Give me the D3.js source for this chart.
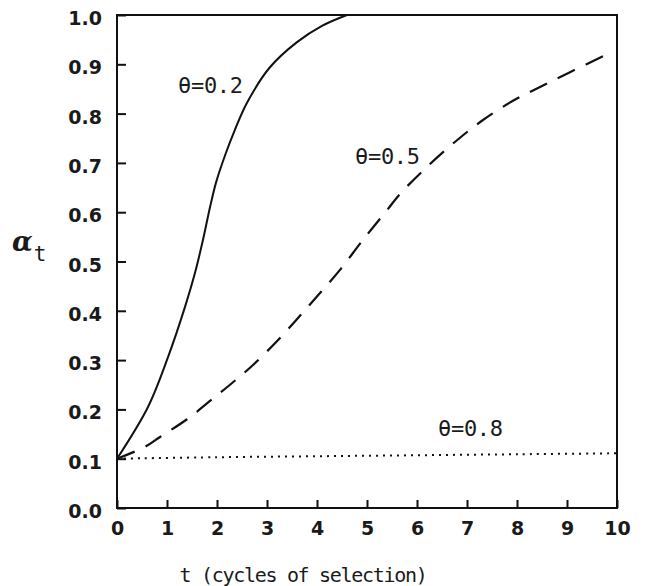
<!DOCTYPE html>
<html>
<head>
<meta charset="utf-8">
<script src="https://cdn.jsdelivr.net/npm/d3@7"></script>
<style>
  body { margin: 0; background: #fff; }
  .tick-label { font-family: "DejaVu Sans", sans-serif; font-weight: bold; font-size: 19px; fill: #1a1a1a; }
  .curve-label { font-family: "DejaVu Sans Mono", monospace; font-size: 22px; letter-spacing: -0.3px; fill: #1a1a1a; }
  .axis-title { font-family: "DejaVu Sans Mono", monospace; font-size: 20px; letter-spacing: -1.3px; fill: #1a1a1a; }
</style>
</head>
<body>
<div class="chart"></div>
<script>
var svgWidth = 648;
var svgHeight = 586;

var margin = { top: 15, right: 31, bottom: 78, left: 117 };
var width = svgWidth - margin.left - margin.right;
var height = svgHeight - margin.top - margin.bottom;

// tick values
var xTicks = [0, 1, 2, 3, 4, 5, 6, 7, 8, 9, 10];
var yTicks = [0.0, 0.1, 0.2, 0.3, 0.4, 0.5, 0.6, 0.7, 0.8, 0.9, 1.0];

// theta = 0.2 (solid)
var tSolid = [0, 0.62, 1.02, 1.36, 1.56, 1.72, 1.86, 1.98, 2.16, 2.35, 2.6, 3.05, 3.6, 4.1, 4.6];
var aSolid = [0.1, 0.205, 0.306, 0.408, 0.477, 0.544, 0.61, 0.66, 0.715, 0.765, 0.822, 0.893, 0.945, 0.978, 1.0];

// theta = 0.5 (dashed)
var tDash = [0, 0.56, 0.86, 1.4, 1.92, 2.26, 2.72, 3.26, 3.66, 4.06, 4.46, 4.92, 5.4, 5.66, 6.2, 6.8, 7.32, 7.92, 8.46, 9.06, 9.86];
var aDash = [0.1, 0.124, 0.144, 0.18, 0.222, 0.25, 0.29, 0.345, 0.39, 0.436, 0.483, 0.544, 0.604, 0.637, 0.692, 0.746, 0.787, 0.826, 0.854, 0.884, 0.923];

// theta = 0.8 (dotted)
var tDot = [0, 2, 4, 6, 8, 10];
var aDot = [0.1, 0.103, 0.105, 0.107, 0.109, 0.111];

var svg = d3.select(".chart")
  .append("svg")
  .attr("width", svgWidth)
  .attr("height", svgHeight);

var chartGroup = svg.append("g")
  .attr("transform", `translate(${margin.left}, ${margin.top})`);

var xScale = d3.scaleLinear().domain([0, 10]).range([0, width]);
var yScale = d3.scaleLinear().domain([0, 1]).range([height, 0]);

// frame
chartGroup.append("rect")
  .attr("x", 0)
  .attr("y", 0)
  .attr("width", width)
  .attr("height", height)
  .attr("fill", "none")
  .attr("stroke", "#111")
  .attr("stroke-width", 2);

// bottom axis: ticks point up into the plot
var bottomAxis = d3.axisBottom(xScale)
  .tickValues(xTicks)
  .tickSize(-8)
  .tickFormat(d3.format("d"));

var xAxis = chartGroup.append("g")
  .attr("transform", `translate(0, ${height})`)
  .call(bottomAxis);

xAxis.select(".domain").remove();
xAxis.selectAll("line").attr("stroke", "#111").attr("stroke-width", 2);
xAxis.selectAll("text")
  .attr("class", "tick-label")
  .attr("y", 27)
  .attr("dy", 0);
xAxis.attr("font-size", null).attr("font-family", null);

// left axis: ticks point right into the plot
var leftAxis = d3.axisLeft(yScale)
  .tickValues(yTicks)
  .tickSize(-9)
  .tickFormat(d3.format(".1f"));

var yAxis = chartGroup.append("g").call(leftAxis);
yAxis.select(".domain").remove();
yAxis.selectAll("line").attr("stroke", "#111").attr("stroke-width", 2);
yAxis.selectAll("text")
  .attr("class", "tick-label")
  .attr("x", -15)
  .attr("dy", "0.5em");
yAxis.attr("font-size", null).attr("font-family", null);

var line = d3.line()
  .x(d => xScale(d[0]))
  .y(d => yScale(d[1]))
  .curve(d3.curveCatmullRom.alpha(0.5));

chartGroup.append("path")
  .datum(d3.zip(tSolid, aSolid))
  .attr("d", line)
  .attr("fill", "none")
  .attr("stroke", "#111")
  .attr("stroke-width", 2);

chartGroup.append("path")
  .datum(d3.zip(tDash, aDash))
  .attr("d", line)
  .attr("fill", "none")
  .attr("stroke", "#111")
  .attr("stroke-width", 2.2)
  .attr("stroke-dasharray", "19,12");

chartGroup.append("path")
  .datum(d3.zip(tDot, aDot))
  .attr("d", line)
  .attr("fill", "none")
  .attr("stroke", "#111")
  .attr("stroke-width", 2)
  .attr("stroke-dasharray", "2,5");

// curve labels
chartGroup.append("text").attr("class", "curve-label")
  .attr("x", 61).attr("y", 78).text("θ=0.2");
chartGroup.append("text").attr("class", "curve-label")
  .attr("x", 238).attr("y", 149).text("θ=0.5");
chartGroup.append("text").attr("class", "curve-label")
  .attr("x", 321).attr("y", 421).text("θ=0.8");

// x axis title
svg.append("text")
  .attr("class", "axis-title")
  .attr("x", 303)
  .attr("y", 582)
  .attr("text-anchor", "middle")
  .text("t (cycles of selection)");

// y axis title: alpha with subscript t
var yTitle = svg.append("text")
  .attr("x", 12)
  .attr("y", 251)
  .style("font-family", "'DejaVu Serif', serif")
  .style("font-style", "italic")
  .style("font-weight", "bold")
  .style("fill", "#1a1a1a");
yTitle.append("tspan").style("font-size", "27px").text("α");
yTitle.append("tspan")
  .attr("dx", 1)
  .attr("dy", 10)
  .style("font-family", "'DejaVu Sans Mono', monospace")
  .style("font-style", "normal")
  .style("font-weight", "normal")
  .style("font-size", "21px")
  .text("t");
</script>
</body>
</html>
